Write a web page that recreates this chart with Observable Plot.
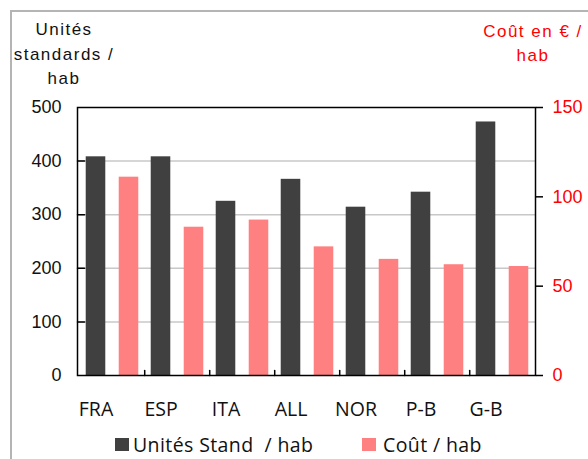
<!DOCTYPE html>
<html>
<head>
<meta charset="utf-8">
<script src="https://cdn.jsdelivr.net/npm/d3@7"></script>
<script src="https://cdn.jsdelivr.net/npm/@observablehq/plot@0.6"></script>
<style>
  html, body { margin: 0; padding: 0; background: #fff; }
  #wrap { position: relative; width: 588px; height: 459px; overflow: hidden; background: #fff; }
  #border { position: absolute; left: 10px; top: 10px; width: 640px; height: 560px; border: 2px solid #b4b4b4; box-sizing: border-box; }
  #chart { position: absolute; left: 0; top: 0; }
  .title { position: absolute; font-family: "Liberation Sans", Arial, sans-serif; font-size: 17px; letter-spacing: 1.5px; text-align: center; white-space: nowrap; }
  #ltitle { left: 4px; width: 120px; top: 18px; line-height: 24.5px; color: #111; }
  #rtitle { left: 473px; width: 120px; top: 20px; line-height: 24px; color: #ff0000; }
  .leg { position: absolute; font-family: "Open Sans", sans-serif; font-size: 19.5px; line-height: 19.5px; color: #111; white-space: pre; letter-spacing: 0.4px; }
  .sw { position: absolute; width: 14px; height: 13px; }
</style>
</head>
<body>
<div id="wrap">
  <div id="border"></div>
  <div id="chart"></div>
  <div id="ltitle" class="title">Unités<br>standards /<br>hab</div>
  <div id="rtitle" class="title">Coût en € /<br>hab</div>
  <div class="sw" style="left:115px;top:438px;background:#404040"></div>
  <div class="leg" style="left:133px;top:435px">Unités Stand  / hab</div>
  <div class="sw" style="left:362px;top:438px;background:#ff8080"></div>
  <div class="leg" style="left:383px;top:435px">Coût / hab</div>
</div>
<script>
const countries = ["FRA", "ESP", "ITA", "ALL", "NOR", "P-B", "G-B"];
const units = [408, 408, 325, 366, 314, 342, 473];      // Unités standards / hab (left axis)
const cost = [111, 83, 87, 72, 65, 62, 61];             // Coût en € / hab (right axis)
const leftTicks = [0, 100, 200, 300, 400, 500];
const rightTicks = [0, 50, 100, 150];

const table = countries.map((c, i) => ({country: c, units: units[i], cost: cost[i]}));
const ratio = 500 / 150;

const W = 588, H = 459, ml = 77, mr = 53, mt = 107, mb = 84;
const bw = (W - ml - mr) / countries.length;
const inset = (bw - 20) / 2;
const line = {draw(ctx, l) { ctx.moveTo(0, 0); ctx.lineTo(0, -l); }};

const chart = Plot.plot({
  width: W, height: H,
  marginLeft: ml, marginRight: mr, marginTop: mt, marginBottom: mb,
  style: {background: "transparent", fontFamily: "Liberation Sans, Arial, sans-serif"},
  x: {domain: countries, padding: 0, axis: null, label: null},
  y: {domain: [0, 500], axis: null, label: null},
  marks: [
    Plot.gridY([100, 200, 300, 400], {stroke: "#c8c8c8", strokeOpacity: 1, strokeWidth: 1.5}),
    Plot.barY(table, {x: "country", y: "units", fill: "#404040", insetLeft: inset, insetRight: inset, dx: -16}),
    Plot.barY(table, {x: "country", y: d => d.cost * ratio, fill: "#ff8080", insetLeft: inset, insetRight: inset, dx: 17}),
    Plot.frame({stroke: "#000", strokeWidth: 1.5}),
    Plot.vector([100, 200, 300, 400], {y: d => d, frameAnchor: "left", length: 7, rotate: 90, anchor: "start", shape: line, stroke: "#000", strokeWidth: 1.5}),
    Plot.vector(countries.slice(0, -1), {x: d => d, frameAnchor: "bottom", length: 5, rotate: 0, anchor: "start", shape: line, stroke: "#000", strokeWidth: 1.5, dx: bw / 2}),
    Plot.axisY(leftTicks, {anchor: "left", label: null, tickSize: 0, tickPadding: 16, fontSize: 18, fill: "#111", letterSpacing: 0.5}),
    Plot.axisY(rightTicks.map(v => v * ratio), {anchor: "right", label: null, tickSize: 7, tickPadding: 10, stroke: "#000", strokeWidth: 1.5, fill: "#ff0000", fontSize: 18, tickFormat: v => String(Math.round(v / ratio))}),
    Plot.axisX({anchor: "bottom", label: null, tickSize: 0, tickPadding: 27, dx: -16, fontSize: 19.5, fontFamily: "Open Sans, sans-serif", fill: "#111"})
  ]
});
document.getElementById("chart").appendChild(chart);
</script>
</body>
</html>
